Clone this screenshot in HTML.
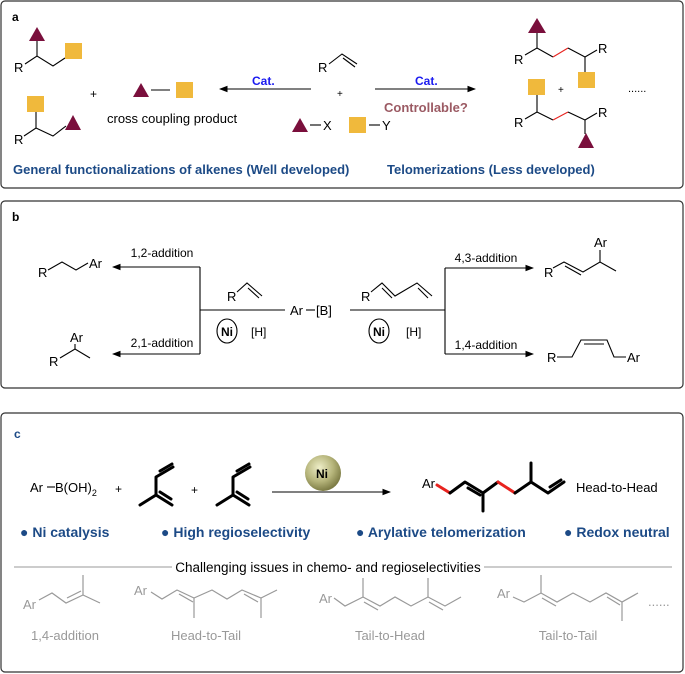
<!DOCTYPE html>
<html><head><meta charset="utf-8"><style>
html,body{margin:0;padding:0;background:#fff}
svg{display:block}
text{font-family:"Liberation Sans",Arial,sans-serif}
.b{fill:none;stroke:#000;stroke-width:1.1}
.g{fill:none;stroke:#999;stroke-width:1.2}
.k{fill:none;stroke:#000;stroke-width:3;stroke-linecap:round;stroke-linejoin:round}
.bl{fill:#1c4a86;font-weight:bold}
</style></head><body>
<svg width="685" height="674" viewBox="0 0 685 674" xmlns="http://www.w3.org/2000/svg">
<defs>
<marker id="ar" markerWidth="8" markerHeight="6" refX="7" refY="3" orient="auto"><path d="M0,0 L8,3 L0,6 z" fill="#000"/></marker>
<radialGradient id="ni" cx="40%" cy="35%" r="65%"><stop offset="0" stop-color="#eeeec8"/><stop offset="0.6" stop-color="#b5b47a"/><stop offset="1" stop-color="#7d7c45"/></radialGradient>
</defs>
<!-- boxes -->
<rect x="1" y="1" width="682" height="187" rx="4" fill="none" stroke="#333" stroke-width="1.2"/>
<rect x="1" y="201" width="682" height="187" rx="4" fill="none" stroke="#333" stroke-width="1.2"/>
<rect x="1" y="413" width="682" height="259" rx="4" fill="none" stroke="#333" stroke-width="1.2"/>

<!-- PANEL A -->
<text x="12" y="21" font-size="12" font-weight="bold">a</text>
<!-- top-left -->
<polygon points="37,27 29,41 45,41" fill="#7a0f3c"/>
<polyline class="b" points="37,41 37,56"/>
<polyline class="b" points="25,64 37,56 53,66 65,58"/>
<rect x="65" y="43" width="17" height="16" fill="#f0b93c"/>
<text x="14" y="72" font-size="13">R</text>
<!-- bottom-left -->
<rect x="27" y="96" width="17" height="16" fill="#f0b93c"/>
<polyline class="b" points="36,112 36,128"/>
<polyline class="b" points="24,136 36,128 53,136 66,126"/>
<polygon points="73,115 65,130 81,130" fill="#7a0f3c"/>
<text x="14" y="144" font-size="13">R</text>
<text x="90" y="98" font-size="12">+</text>
<polygon points="141,83 133,97 149,97" fill="#7a0f3c"/>
<line class="b" x1="151" y1="90" x2="170" y2="90"/>
<rect x="176" y="82" width="17" height="16" fill="#f0b93c"/>
<text x="107" y="123" font-size="13">cross coupling product</text>
<line class="b" x1="311" y1="89" x2="220" y2="89" marker-end="url(#ar)"/>
<text x="252" y="85" font-size="12" font-weight="bold" fill="#1a1af0">Cat.</text>
<text x="318" y="72" font-size="13">R</text>
<polyline class="b" points="329,64 342,54 357,64"/>
<line class="b" x1="343" y1="58" x2="355" y2="67"/>
<text x="337" y="97" font-size="10">+</text>
<polygon points="300,118 292,132 308,132" fill="#7a0f3c"/>
<line class="b" x1="310" y1="125" x2="321" y2="125"/>
<text x="323" y="130" font-size="13">X</text>
<rect x="349" y="117" width="17" height="16" fill="#f0b93c"/>
<line class="b" x1="369" y1="125" x2="380" y2="125"/>
<text x="382" y="130" font-size="13">Y</text>
<line class="b" x1="375" y1="89" x2="475" y2="89" marker-end="url(#ar)"/>
<text x="415" y="85" font-size="12" font-weight="bold" fill="#1a1af0">Cat.</text>
<text x="384" y="112" font-size="13" font-weight="bold" fill="#9b5a63">Controllable?</text>
<!-- right top -->
<polygon points="537,18 528,33 546,33" fill="#7a0f3c"/>
<line class="b" x1="537" y1="33" x2="537" y2="48"/>
<polyline class="b" points="525,55 537,48 553,57"/>
<line x1="553" y1="57" x2="568" y2="48" stroke="#e8231f" stroke-width="1.1"/>
<polyline class="b" points="568,48 585,57 597,50"/>
<line class="b" x1="585" y1="57" x2="585" y2="72"/>
<rect x="578" y="72" width="17" height="16" fill="#f0b93c"/>
<text x="514" y="64" font-size="13">R</text>
<text x="598" y="53" font-size="13">R</text>
<!-- right bottom -->
<rect x="528" y="79" width="17" height="16" fill="#f0b93c"/>
<text x="558" y="93" font-size="10">+</text>
<line class="b" x1="537" y1="95" x2="537" y2="112"/>
<polyline class="b" points="525,119 537,112 553,120"/>
<line x1="553" y1="120" x2="568" y2="112" stroke="#e8231f" stroke-width="1.1"/>
<polyline class="b" points="568,112 585,120 597,113"/>
<line class="b" x1="585" y1="120" x2="585" y2="134"/>
<polygon points="586,133 578,148 594,148" fill="#7a0f3c"/>
<text x="514" y="127" font-size="13">R</text>
<text x="598" y="117" font-size="13">R</text>
<text x="628" y="92" font-size="11">......</text>
<text x="13" y="174" font-size="13" class="bl">General functionalizations of alkenes (Well developed)</text>
<text x="387" y="174" font-size="13" class="bl">Telomerizations (Less developed)</text>

<!-- PANEL B -->
<text x="12" y="221" font-size="12" font-weight="bold">b</text>
<text x="38" y="277" font-size="13">R</text>
<polyline class="b" points="48,270 62,262 76,270 88,263"/>
<text x="89" y="268" font-size="13">Ar</text>
<line class="b" x1="200" y1="267" x2="113" y2="267" marker-end="url(#ar)"/>
<line class="b" x1="200" y1="354" x2="113" y2="354" marker-end="url(#ar)"/>
<line class="b" x1="200" y1="267" x2="200" y2="354"/>
<text x="162" y="257" font-size="12" text-anchor="middle">1,2-addition</text>
<text x="162" y="347" font-size="12" text-anchor="middle">2,1-addition</text>
<text x="70" y="342" font-size="13">Ar</text>
<polyline class="b" points="60,358 75,349 90,358"/>
<line class="b" x1="75" y1="349" x2="75" y2="344"/>
<text x="49" y="366" font-size="13">R</text>
<line class="b" x1="200" y1="310" x2="285" y2="310"/>
<text x="227" y="301" font-size="13">R</text>
<polyline class="b" points="237,292 247,283 262,296"/>
<line class="b" x1="248" y1="288" x2="259" y2="298"/>
<text x="290" y="315" font-size="13">Ar</text>
<line class="b" x1="306" y1="310" x2="315" y2="310"/>
<text x="316" y="315" font-size="13">[B]</text>
<line class="b" x1="350" y1="310" x2="445" y2="310"/>
<ellipse cx="227" cy="331" rx="10" ry="12" class="b"/>
<text x="221" y="336" font-size="12" font-weight="bold">Ni</text>
<text x="251" y="336" font-size="12">[H]</text>
<ellipse cx="379" cy="331" rx="10" ry="12" class="b"/>
<text x="373" y="336" font-size="12" font-weight="bold">Ni</text>
<text x="406" y="336" font-size="12">[H]</text>
<text x="361" y="301" font-size="13">R</text>
<polyline class="b" points="371,292 382,283 395,296 417,283 432,296"/>
<line class="b" x1="382" y1="288" x2="392" y2="298"/>
<line class="b" x1="418" y1="288" x2="428" y2="298"/>
<line class="b" x1="445" y1="268" x2="445" y2="354"/>
<line class="b" x1="445" y1="268" x2="533" y2="268" marker-end="url(#ar)"/>
<line class="b" x1="445" y1="354" x2="533" y2="354" marker-end="url(#ar)"/>
<text x="486" y="262" font-size="12" text-anchor="middle">4,3-addition</text>
<text x="486" y="349" font-size="12" text-anchor="middle">1,4-addition</text>
<text x="544" y="277" font-size="13">R</text>
<polyline class="b" points="553,268 564,262 583,272 600,262 616,271"/>
<line class="b" x1="565" y1="266" x2="581" y2="275"/>
<line class="b" x1="600" y1="262" x2="600" y2="250"/>
<text x="594" y="247" font-size="13">Ar</text>
<text x="547" y="362" font-size="13">R</text>
<polyline class="b" points="557,357 572,357 581,340 607,340 614,357 626,357"/>
<line class="b" x1="584" y1="344" x2="604" y2="344"/>
<text x="627" y="362" font-size="13">Ar</text>

<!-- PANEL C -->
<text x="14" y="438" font-size="12" font-weight="bold" fill="#1c4a86">c</text>
<text x="30" y="492" font-size="13">Ar</text>
<line class="b" x1="47" y1="487" x2="55" y2="487"/>
<text x="55" y="492" font-size="13">B(OH)<tspan font-size="9" dy="4">2</tspan></text>
<text x="115" y="493" font-size="12">+</text>
<polyline class="k" points="173,467 156,477 156,495 140,505"/>
<line class="k" x1="160" y1="471" x2="172" y2="464"/>
<line class="k" x1="156" y1="495" x2="172" y2="505"/>
<line class="k" x1="160" y1="492" x2="171" y2="499" stroke-width="1.5"/>
<text x="191" y="494" font-size="12">+</text>
<polyline class="k" points="250,467 233,477 233,495 217,505"/>
<line class="k" x1="237" y1="471" x2="249" y2="464"/>
<line class="k" x1="233" y1="495" x2="249" y2="505"/>
<line class="k" x1="237" y1="492" x2="248" y2="499" stroke-width="1.5"/>
<line class="b" x1="272" y1="492" x2="390" y2="492" marker-end="url(#ar)"/>
<ellipse cx="323" cy="473" rx="18" ry="18" fill="url(#ni)"/>
<text x="316" y="478" font-size="12" font-weight="bold">Ni</text>
<text x="422" y="488" font-size="13">Ar</text>
<line x1="437" y1="485" x2="450" y2="493" stroke="#e8231f" stroke-width="3" stroke-linecap="round"/>
<polyline class="k" points="450,493 465,482 483,493 498,482"/>
<line class="k" x1="468" y1="488" x2="480" y2="495" stroke-width="1.5"/>
<line class="k" x1="483" y1="493" x2="483" y2="511"/>
<line x1="498" y1="482" x2="515" y2="493" stroke="#e8231f" stroke-width="3" stroke-linecap="round"/>
<polyline class="k" points="515,493 531,482 548,493 564,482"/>
<line class="k" x1="531" y1="482" x2="531" y2="463"/>
<line class="k" x1="550" y1="487" x2="561" y2="480" stroke-width="1.5"/>
<text x="576" y="492" font-size="13">Head-to-Head</text>
<g font-size="14" class="bl">
<text x="20" y="537">● Ni catalysis</text>
<text x="161" y="537">● High regioselectivity</text>
<text x="356" y="537">● Arylative telomerization</text>
<text x="564" y="537">● Redox neutral</text>
</g>
<line x1="14" y1="567" x2="172" y2="567" stroke="#999" stroke-width="1"/>
<line x1="484" y1="567" x2="672" y2="567" stroke="#999" stroke-width="1"/>
<text x="328" y="572" font-size="13.5" text-anchor="middle">Challenging issues in chemo- and regioselectivities</text>
<g font-size="13" fill="#999">
<text x="23" y="609">Ar</text>
<text x="134" y="595">Ar</text>
<text x="319" y="603">Ar</text>
<text x="497" y="598">Ar</text>
<text x="65" y="640" text-anchor="middle">1,4-addition</text>
<text x="206" y="640" text-anchor="middle">Head-to-Tail</text>
<text x="390" y="640" text-anchor="middle">Tail-to-Head</text>
<text x="568" y="640" text-anchor="middle">Tail-to-Tail</text>
<text x="648" y="606">......</text>
</g>
<polyline class="g" points="39,600 52,593 66,603 83,595 100,603"/>
<line class="g" x1="83" y1="595" x2="83" y2="575"/>
<line class="g" x1="67" y1="598" x2="81" y2="591"/>
<polyline class="g" points="151,592 162,599 177,590 194,598 212,590 227,599 242,590 261,598 277,590"/>
<line class="g" x1="194" y1="598" x2="194" y2="618"/>
<line class="g" x1="261" y1="598" x2="261" y2="618"/>
<line class="g" x1="179" y1="594" x2="193" y2="602"/>
<line class="g" x1="244" y1="594" x2="258" y2="602"/>
<polyline class="g" points="334,598 345,606 363,597 380,606 395,597 411,606 428,597 445,606 461,597"/>
<line class="g" x1="363" y1="597" x2="363" y2="578"/>
<line class="g" x1="428" y1="597" x2="428" y2="578"/>
<line class="g" x1="364" y1="602" x2="378" y2="610"/>
<line class="g" x1="429" y1="602" x2="443" y2="610"/>
<polyline class="g" points="513,597 524,602 541,593 557,602 573,593 590,602 606,593 622,602 638,593"/>
<line class="g" x1="541" y1="593" x2="541" y2="575"/>
<line class="g" x1="622" y1="602" x2="622" y2="621"/>
<line class="g" x1="542" y1="598" x2="556" y2="606"/>
<line class="g" x1="607" y1="597" x2="620" y2="605"/>
</svg>
</body></html>
